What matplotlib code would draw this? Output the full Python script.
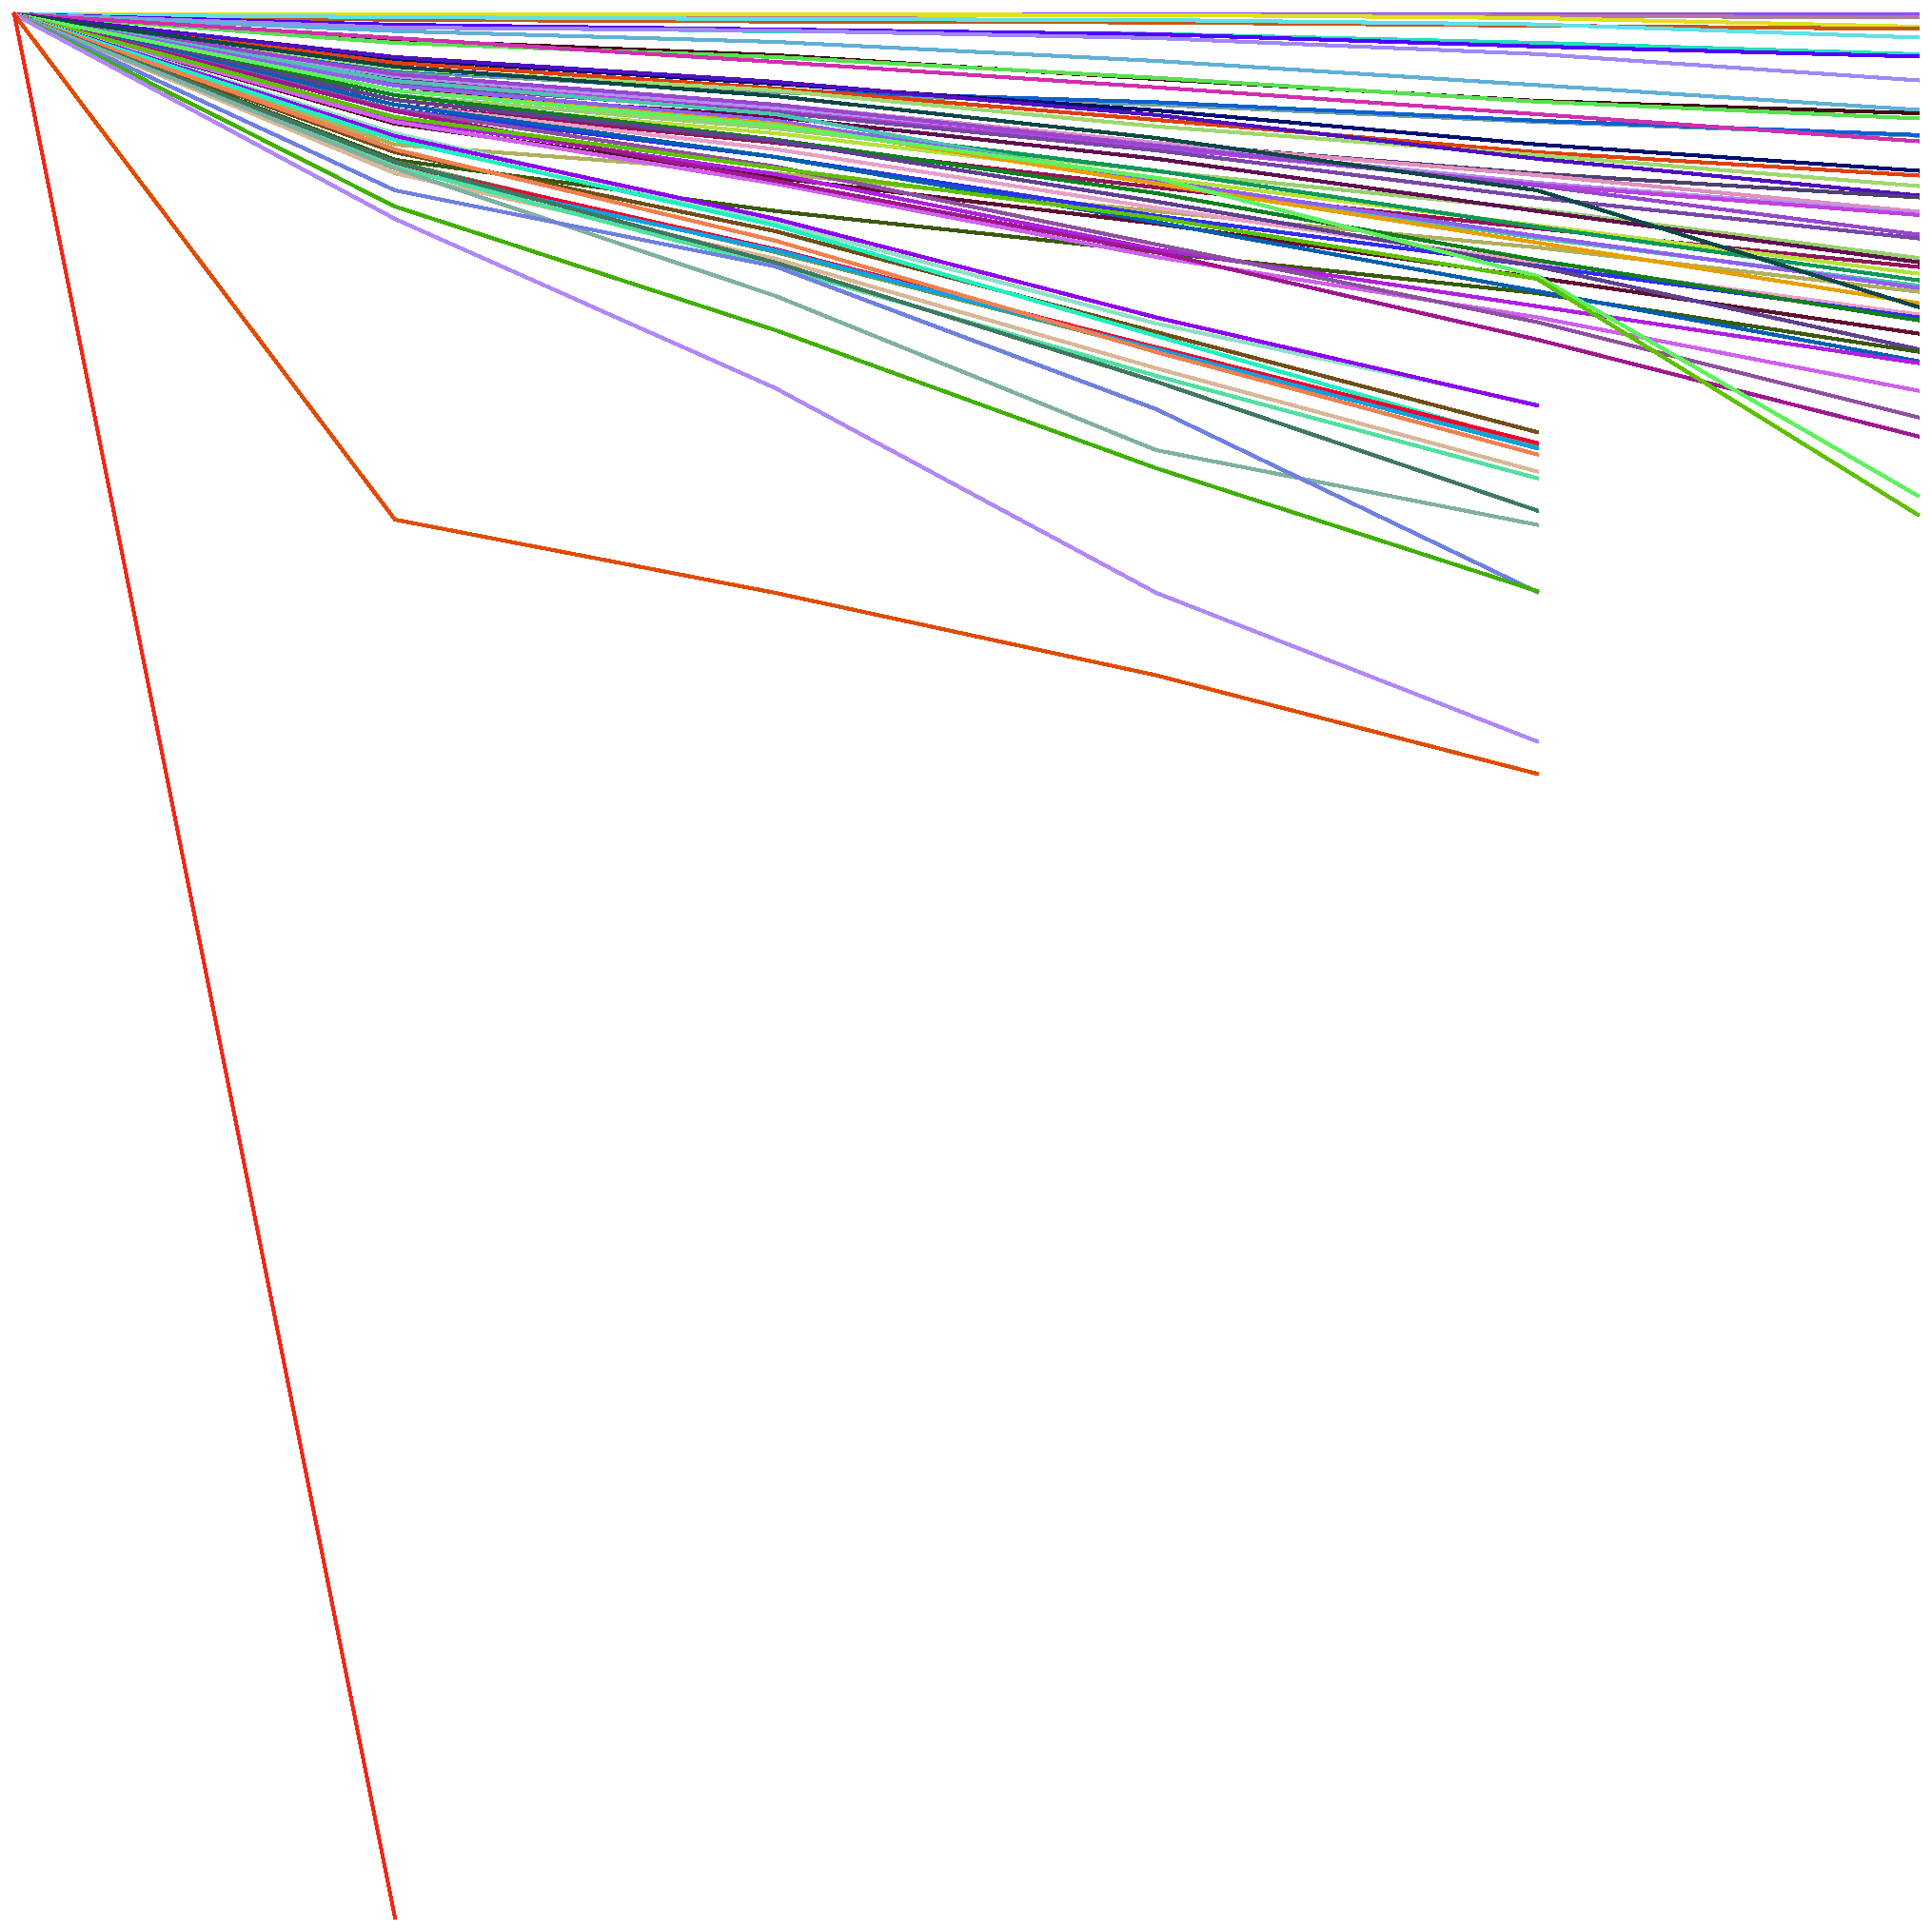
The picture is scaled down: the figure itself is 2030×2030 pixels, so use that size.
import matplotlib
matplotlib.use("Agg")
import matplotlib.pyplot as plt
import numpy as np

# x positions of the observations
steps = [0, 1, 2, 3, 4, 5]

# cumulative decline (%) for series observed over all six steps
long_runs = [
    [0, 0.00, 0.00, 0.00, 0.02, 0.02],
    [0, 0.03, 0.03, 0.05, 0.08, 0.17],
    [0, 0.02, 0.02, 0.03, 0.20, 0.65],
    [0, 0.29, 0.38, 0.43, 0.60, 0.77],
    [0, 0.15, 0.25, 0.30, 0.53, 1.22],
    [0, 0.60, 0.90, 1.03, 1.50, 2.10],
    [0, 0.55, 0.80, 1.05, 1.69, 2.22],
    [0, 0.70, 0.85, 1.25, 2.09, 3.47],
    [0, 0.88, 1.45, 2.45, 3.72, 5.02],
    [0, 1.35, 2.15, 3.40, 4.55, 5.20],
    [0, 1.50, 2.25, 3.34, 4.59, 5.47],
    [0, 3.00, 4.10, 4.75, 5.65, 6.38],
    [0, 2.90, 4.00, 4.62, 5.59, 6.34],
    [0, 1.25, 2.50, 3.84, 5.25, 6.67],
    [0, 2.35, 3.65, 5.05, 6.84, 8.22],
    [0, 2.55, 3.89, 5.55, 7.25, 8.47],
    [0, 2.85, 4.00, 5.89, 7.40, 9.02],
    [0, 2.25, 3.55, 5.29, 7.59, 9.52],
    [0, 3.35, 5.00, 6.75, 8.37, 9.62],
    [0, 3.15, 4.75, 6.75, 8.45, 10.37],
    [0, 3.25, 4.95, 6.85, 8.85, 10.45],
    [0, 3.50, 5.10, 7.00, 8.95, 10.54],
    [0, 3.15, 4.75, 6.90, 9.00, 11.57],
    [0, 3.65, 5.15, 7.15, 9.64, 11.77],
    [0, 4.25, 6.00, 8.25, 10.25, 12.80],
    [0, 4.00, 5.40, 7.59, 10.34, 13.02],
    [0, 4.75, 6.75, 9.10, 11.25, 13.27],
    [0, 4.50, 6.25, 8.59, 11.09, 13.62],
    [0, 4.00, 5.75, 8.22, 11.17, 13.97],
    [0, 3.50, 5.25, 8.84, 11.75, 14.25],
    [0, 3.75, 5.59, 8.75, 11.65, 14.37],
    [0, 6.85, 8.35, 10.35, 12.25, 14.57],
    [0, 4.00, 5.75, 8.90, 12.00, 15.17],
    [0, 2.75, 4.30, 6.50, 9.25, 15.37],
    [0, 4.75, 7.09, 10.17, 13.05, 15.77],
    [0, 5.00, 7.50, 10.59, 13.22, 15.92],
    [0, 4.25, 6.59, 9.40, 12.92, 16.07],
    [0, 5.75, 8.59, 11.00, 13.84, 16.77],
    [0, 4.50, 6.65, 9.84, 13.25, 17.59],
    [0, 7.65, 10.34, 12.50, 14.65, 17.72],
    [0, 4.75, 7.50, 10.92, 14.55, 18.22],
    [0, 5.50, 8.40, 12.35, 15.34, 18.32],
    [0, 5.65, 8.90, 12.75, 15.92, 19.77],
    [0, 5.00, 8.00, 12.09, 16.17, 21.17],
    [0, 5.09, 8.75, 12.50, 17.09, 22.17],
    [0, 4.00, 5.84, 8.60, 13.75, 25.29],
    [0, 5.40, 8.09, 10.70, 13.90, 26.29],
]
long_colors = [
    "#8e4ef5", "#b07ca0", "#e0e020", "#c05a1c", "#60e0e8", "#20e0c0",
    "#5000ff", "#a088f8", "#60b0d8", "#401018", "#58e050", "#70a0a0",
    "#1060d0", "#d030b0", "#001070", "#e04010", "#a0d870", "#5010c0",
    "#504070", "#e090c0", "#b090f0", "#c040e0", "#9848d0", "#7848a8",
    "#98d070", "#601050", "#901858", "#b8e040", "#109858", "#50c0b0",
    "#9060f0", "#b0b060", "#e8a000", "#104848", "#e8a0c8", "#3030f0",
    "#108020", "#601030", "#604090", "#3a5a10", "#0060b0", "#b020e0",
    "#d060f0", "#9050a0", "#a01890", "#60f060", "#60c000",
]

# series observed over the first five steps only
short_runs = [
    [0, 6.25, 10.95, 16.25, 20.50],
    [0, 6.40, 10.75, 15.93, 20.55],
    [0, 7.25, 11.40, 16.70, 21.95],
    [0, 6.60, 11.10, 16.90, 22.65],
    [0, 7.75, 12.50, 17.65, 22.60],
    [0, 7.85, 12.35, 17.50, 22.52],
    [0, 8.10, 12.40, 17.60, 22.80],
    [0, 7.10, 11.90, 17.75, 23.12],
    [0, 8.35, 12.85, 18.60, 24.02],
    [0, 8.00, 13.25, 19.00, 24.37],
    [0, 7.75, 13.05, 19.30, 26.07],
    [0, 8.10, 14.80, 22.90, 26.82],
    [0, 9.25, 13.25, 20.75, 30.35],
    [0, 10.10, 16.60, 23.85, 30.30],
    [0, 10.75, 19.65, 30.40, 38.20],
    [0, 26.55, 30.40, 34.73, 39.90],
]
short_colors = [
    "#90e0c8", "#9000f0", "#705018", "#20f0c0", "#60a060", "#f00030",
    "#10a0e0", "#f08050", "#d8b898", "#50e0a0", "#407860", "#80b0a0",
    "#7080e0", "#40b000", "#b088f8", "#e04c00",
]

# series observed over the first two steps only
first_drop = [0, 100]
first_color = "#f02818"

W = 2030
fig = plt.figure(figsize=(W / 100, W / 100), dpi=100)
ax = fig.add_axes([15 / W, 15 / W, 2000 / W, 2000 / W])
ax.set_axis_off()

lw = 2.2
for vals, c in zip(long_runs, long_colors):
    ax.plot(steps[:len(vals)], vals, color=c, lw=lw, clip_on=False,
            antialiased=False, solid_joinstyle="miter")
for vals, c in zip(short_runs, short_colors):
    ax.plot(steps[:len(vals)], vals, color=c, lw=lw, clip_on=False,
            antialiased=False, solid_joinstyle="miter")
ax.plot(steps[:len(first_drop)], first_drop, color=first_color, lw=lw,
        clip_on=False, antialiased=False)

ax.set_xlim(0, 5)
ax.set_ylim(100, 0)

fig.savefig("out.png", dpi=100, facecolor="white")
